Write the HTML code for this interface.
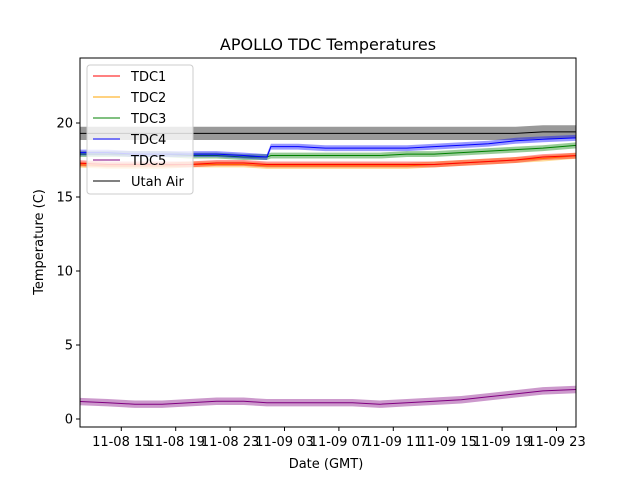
<!DOCTYPE html>
<html><head><meta charset="utf-8"><style>
body{margin:0;background:#fff;font-family:"Liberation Sans","DejaVu Sans",sans-serif}
svg text{font-family:"DejaVu Sans","Liberation Sans",sans-serif}
</style></head><body>
<svg id="chart" width="640" height="480" xmlns="http://www.w3.org/2000/svg">
<defs><clipPath id="clip"><rect x="80" y="58" width="496" height="369"/></clipPath></defs>
<rect width="640" height="480" fill="#fff"/>
<text x="328" y="50" font-size="16" text-anchor="middle">APOLLO TDC Temperatures</text>
<g id="plot" clip-path="url(#clip)"></g>
<rect x="80" y="58" width="496" height="369" fill="none" stroke="#000" stroke-width="1"/>
<text x="326" y="468" font-size="13" text-anchor="middle">Date (GMT)</text>
<text transform="translate(43,242) rotate(-90)" font-size="13" text-anchor="middle">Temperature (C)</text>
</svg>
<script>
const hours=[11.5,14,16,18,20,22,24,25.7,26,28,30,32,34,36,38,40,42,44,46,48.6];
const utahAir=[19.3,19.3,19.3,19.3,19.3,19.3,19.3,19.3,19.3,19.3,19.3,19.3,19.3,19.3,19.3,19.3,19.3,19.3,19.4,19.4];
const tdc4=[18.0,18.0,17.9,17.9,17.9,17.9,17.8,17.7,18.4,18.4,18.3,18.3,18.3,18.3,18.4,18.5,18.6,18.8,18.9,19.0];
const tdc3=[17.9,17.9,17.9,17.9,17.8,17.8,17.7,17.7,17.8,17.8,17.8,17.8,17.8,17.9,17.9,18.0,18.1,18.2,18.3,18.5];
const tdc1=[17.3,17.2,17.2,17.2,17.2,17.3,17.3,17.2,17.2,17.2,17.2,17.2,17.2,17.2,17.2,17.3,17.4,17.5,17.7,17.8];
const tdc2=[17.2,17.1,17.1,17.1,17.2,17.2,17.2,17.1,17.1,17.1,17.1,17.1,17.1,17.1,17.2,17.3,17.4,17.5,17.6,17.8];
const tdc5=[1.2,1.1,1.0,1.0,1.1,1.2,1.2,1.1,1.1,1.1,1.1,1.1,1.0,1.1,1.2,1.3,1.5,1.7,1.9,2.0];
const noise=[0.2,0.2,0.2,0.2,0.25,0.45];
const yTicks=[0,5,10,15,20];
const xTickHours=[15,19,23,27,31,35,39,43,47];
const xTickLabels=["11-08 15","11-08 19","11-08 23","11-09 03","11-09 07","11-09 11","11-09 15","11-09 19","11-09 23"];
const seriesNames=["TDC1","TDC2","TDC3","TDC4","TDC5","Utah Air"];

const colors=["red","orange","green","blue","purple","black"];
const X=h=>121.3+(h-15)*13.6;
const Y=v=>419-v*14.8;
const NS="http://www.w3.org/2000/svg";
const svg=document.getElementById('chart');
const plot=document.getElementById('plot');
function mk(t,a,p){const e=document.createElementNS(NS,t);for(const k in a)e.setAttribute(k,a[k]);(p||plot).appendChild(e);return e;}
yTicks.forEach(v=>{
  const l=mk('line',{x1:76,x2:80,y1:Y(v),y2:Y(v),stroke:'#000'},svg);
  
  
  const t=mk('text',{x:73,y:Y(v)+4.5,'font-size':13,'text-anchor':'end'},svg);
  t.textContent=v;
  
  
});
xTickHours.forEach((h,i)=>{
  const l=mk('line',{x1:X(h),x2:X(h),y1:427,y2:431,stroke:'#000'},svg);
  
  
  const t=mk('text',{x:X(h),y:446,'font-size':13,'text-anchor':'middle'},svg);
  t.textContent=xTickLabels[i];
  
  
});
const data=[tdc1,tdc2,tdc3,tdc4,tdc5,utahAir];
const order=[5,2,3,1,0,4];
order.forEach(i=>{
  const d=data[i],n=noise[i];
  let top=hours.map((h,j)=>X(h)+','+Y(d[j]+n)).join(' ');
  let bot=hours.map((h,j)=>X(h)+','+Y(d[j]-n)).reverse().join(' ');
  const b=mk('polygon',{points:top+' '+bot,fill:colors[i],opacity:0.4});
  
  
  const l=mk('polyline',{points:hours.map((h,j)=>X(h)+','+Y(d[j])).join(' '),fill:'none',stroke:colors[i],'stroke-width':1});
  
  
});
const lg=mk('g',{},svg);


mk('rect',{x:87,y:65,width:106,height:129,rx:3,fill:'#fff','fill-opacity':0.8,stroke:'#ccc'},lg);
seriesNames.forEach((s,i)=>{
  const y=76+i*21;
  const g=mk('g',{},lg);
  
  
  mk('line',{x1:93,x2:120,y1:y,y2:y,stroke:colors[i],'stroke-width':1},g);
  const t=mk('text',{x:131,y:y+5,'font-size':13},g);
  t.textContent=s;
});
</script>
</body></html>
